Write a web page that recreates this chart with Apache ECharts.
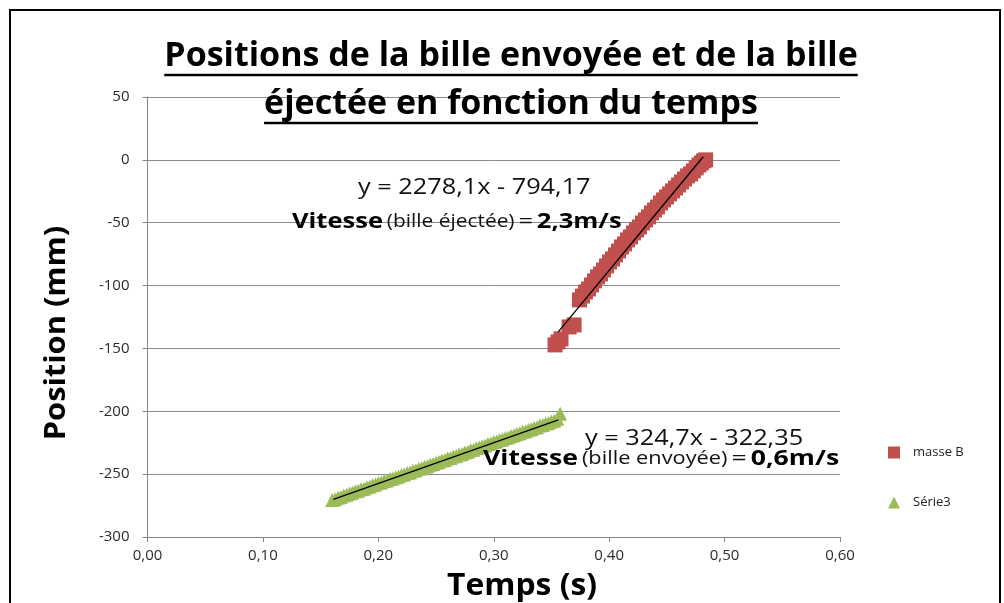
<!DOCTYPE html>
<html><head><meta charset="utf-8">
<script src="https://cdn.jsdelivr.net/npm/echarts@6/dist/echarts.min.js"></script>
<style>html,body{margin:0;padding:0;background:#fff}#c{width:1004px;height:603px}</style>
</head><body><div id="c"></div>
<script>
// ---------- data ----------
const titleLines = ['Positions de la bille envoyée et de la bille', 'éjectée en fonction du temps'];
const xAxisTitle = 'Temps (s)';
const yAxisTitle = 'Position (mm)';
const seriesNames = ['masse B', 'Série3'];

const massBTime = [0.3531,0.3557,0.3583,0.3653,0.3696,
  0.3743,0.3769,0.3795,0.3821,0.3847,0.3873,0.3899,0.3925,0.3951,0.3977,0.4003,0.4029,
  0.4055,0.4081,0.4107,0.4133,0.4159,0.4185,0.4211,0.4237,0.4263,0.4289,0.4315,0.4341,
  0.4367,0.4393,0.4419,0.4445,0.4471,0.4497,0.4523,0.4549,0.4575,0.4601,0.4627,0.4653,
  0.4679,0.4705,0.4729,0.4754,0.4778,0.4799,0.4818,0.4836];
const massBPos = [-147.2,-144.8,-142.4,-132.9,-131.3,
  -111.4,-108.3,-105.1,-102.7,-99.5,-96.3,-93.1,-90.8,-87.6,-84.4,-81.2,-78.8,
  -75.6,-72.5,-69.3,-66.9,-63.7,-61.3,-58.1,-55.8,-53.4,-50.2,-47.8,-45.4,
  -42.2,-39.9,-37.5,-34.3,-31.9,-29.5,-27.1,-24.7,-22.4,-20.0,-17.6,-15.2,
  -12.8,-11.2,-8.8,-6.4,-4.1,-2.5,-0.8,0.0];

const serie3Time = [0.1600,0.1625,0.1650,0.1675,0.1700,0.1725,0.1750,0.1775,0.1800,0.1825,
  0.1850,0.1875,0.1900,0.1925,0.1950,0.1975,0.2000,0.2025,0.2050,0.2075,
  0.2100,0.2125,0.2150,0.2175,0.2200,0.2225,0.2250,0.2275,0.2300,0.2325,
  0.2350,0.2375,0.2400,0.2425,0.2450,0.2475,0.2500,0.2525,0.2550,0.2575,
  0.2600,0.2625,0.2650,0.2675,0.2700,0.2725,0.2750,0.2775,0.2800,0.2825,
  0.2850,0.2875,0.2900,0.2925,0.2950,0.2975,0.3000,0.3025,0.3050,0.3075,
  0.3100,0.3125,0.3150,0.3175,0.3200,0.3225,0.3250,0.3275,0.3300,0.3325,
  0.3350,0.3375,0.3400,0.3425,0.3450,0.3475,0.3500,0.3525,0.3550,0.3575];
const serie3Pos = [-270.6,-269.9,-268.7,-268.1,-267.0,-266.4,-265.3,-264.9,-263.7,-263.2,
  -262.0,-261.6,-260.4,-259.9,-258.8,-258.3,-257.1,-256.7,-255.5,-255.1,
  -253.9,-253.4,-252.4,-251.9,-250.7,-250.2,-249.0,-248.6,-247.4,-246.9,
  -245.8,-245.3,-244.1,-243.7,-242.5,-242.0,-240.9,-240.4,-239.2,-238.8,
  -237.6,-237.1,-236.0,-235.5,-234.3,-233.9,-232.7,-232.2,-231.0,-230.6,
  -229.4,-228.9,-227.8,-227.3,-226.1,-225.7,-224.5,-224.0,-222.9,-222.4,
  -221.2,-220.8,-219.6,-219.1,-218.0,-217.5,-216.3,-215.9,-214.7,-214.2,
  -213.1,-212.6,-211.4,-211.0,-209.8,-209.3,-208.1,-207.5,-205.9,-202.0];

const trendBTime = [0.3557, 0.4815];
const trendBPos = [-137.0, 2.5];
const trend3Time = [0.161, 0.356];
const trend3Pos = [-270.1, -206.8];

const eqB = 'y = 2278,1x - 794,17';
const speedB = ['Vitesse', '(bille éjectée)', '=', '2,3m/s'];
const eq3 = 'y = 324,7x - 322,35';
const speed3 = ['Vitesse', '(bille envoyée)', '=', '0,6m/s'];

const xMin = 0, xMax = 0.6, xStep = 0.1;
const yMin = -300, yMax = 50, yStep = 50;

// ---------- helpers ----------
const FONT = '"Open Sans", "Noto Sans", sans-serif';
const zip = (a, b) => a.map((v, i) => [v, b[i]]);
const ctx = document.createElement('canvas').getContext('2d');
function textW(txt, font) { ctx.font = font; return ctx.measureText(txt).width; }

const chart = echarts.init(document.getElementById('c'), null, {renderer: 'canvas'});

const titleFont = 'bold 34px ' + FONT;
const tCx = 511;
const tY = [56, 104];
const graphics = [];
// border
graphics.push({type: 'rect', shape: {x: 10, y: 10, width: 990, height: 640}, style: {fill: 'none', stroke: '#000', lineWidth: 2}, z: 100});
titleLines.forEach((t, i) => {
  const w = textW(t, titleFont);
  graphics.push({type: 'text', x: tCx, y: tY[i], style: {text: t, font: titleFont, fill: '#000', align: 'center', verticalAlign: 'middle'}, z: 50});
  graphics.push({type: 'line', shape: {x1: tCx - w / 2, y1: tY[i] + 19, x2: tCx + w / 2, y2: tY[i] + 19}, style: {stroke: '#000', lineWidth: 2.5}, z: 50});
});
// axis titles
graphics.push({type: 'text', x: 57, y: 333, rotation: Math.PI / 2, scaleX: 1.1, style: {text: yAxisTitle, font: 'bold 28px ' + FONT, fill: '#000', align: 'center', verticalAlign: 'middle'}});
graphics.push({type: 'text', x: 522, y: 586, scaleX: 1.06, style: {text: xAxisTitle, font: 'bold 30px ' + FONT, fill: '#000', align: 'center', verticalAlign: 'middle'}});

function eqText(eq, sp, x1, y1, x2, y2, sx) {
  graphics.push({type: 'text', x: x1, y: y1, scaleX: 1.15, style: {text: eq, font: '22px ' + FONT, fill: '#111', align: 'left', verticalAlign: 'middle'}, z: 40});
  graphics.push({type: 'text', x: x2, y: y2, scaleX: sx, style: {
    text: '{b|' + sp[0] + '} {s|' + sp[1] + '} {n|' + sp[2] + '} {b|' + sp[3] + '}',
    align: 'left', verticalAlign: 'middle',
    rich: {
      b: {font: 'bold 22px ' + FONT, fill: '#000'},
      s: {font: '18px ' + FONT, fill: '#111'},
      n: {font: '22px ' + FONT, fill: '#111'}
    }
  }, z: 40});
}
eqText(eqB, speedB, 358, 188, 292, 222, 1.16);
eqText(eq3, speed3, 585, 439, 483, 459, 1.21);

const option = {
  backgroundColor: '#fff',
  animation: false,
  grid: {left: 147.5, right: 164, top: 97, bottom: 66, containLabel: false},
  xAxis: {
    type: 'value', min: xMin, max: xMax, interval: xStep,
    axisLine: {show: true, onZero: false, lineStyle: {color: '#868686', width: 1}},
    axisTick: {show: true, length: 5, lineStyle: {color: '#868686'}},
    splitLine: {show: false},
    axisLabel: {formatter: v => v.toFixed(2).replace('.', ','), fontFamily: FONT, fontSize: 15, color: '#2b2b2b', margin: 11}
  },
  yAxis: {
    type: 'value', min: yMin, max: yMax, interval: yStep,
    axisLine: {show: true, onZero: false, lineStyle: {color: '#868686', width: 1}},
    axisTick: {show: true, length: 5, lineStyle: {color: '#868686'}},
    splitLine: {show: true, lineStyle: {color: '#8c8c8c', width: 1}},
    axisLabel: {fontFamily: FONT, fontSize: 15, color: '#2b2b2b', margin: 18}
  },
  legend: {
    orient: 'vertical', left: 883, top: 441, itemWidth: 12, itemHeight: 12, itemGap: 37,
    selectedMode: false,
    data: [{name: seriesNames[0], icon: 'rect'}, {name: seriesNames[1], icon: 'triangle'}],
    textStyle: {fontFamily: FONT, fontSize: 13, color: '#222', padding: [0, 0, 0, 8]}
  },
  series: [
    {name: seriesNames[0], type: 'scatter', symbol: 'rect', symbolSize: 15, data: zip(massBTime, massBPos),
      itemStyle: {color: '#C0504D', opacity: 1}, z: 3},
    {name: seriesNames[1], type: 'scatter', symbol: 'triangle', symbolSize: 14, data: zip(serie3Time, serie3Pos),
      itemStyle: {color: '#9BBB59', opacity: 1}, z: 3},
    {name: 'trendB', type: 'line', data: zip(trendBTime, trendBPos), symbol: 'none',
      lineStyle: {color: '#000', width: 1.3}, z: 4, silent: true},
    {name: 'trend3', type: 'line', data: zip(trend3Time, trend3Pos), symbol: 'none',
      lineStyle: {color: '#000', width: 1.3}, z: 4, silent: true}
  ],
  graphic: graphics
};
chart.setOption(option);
</script>
</body></html>
